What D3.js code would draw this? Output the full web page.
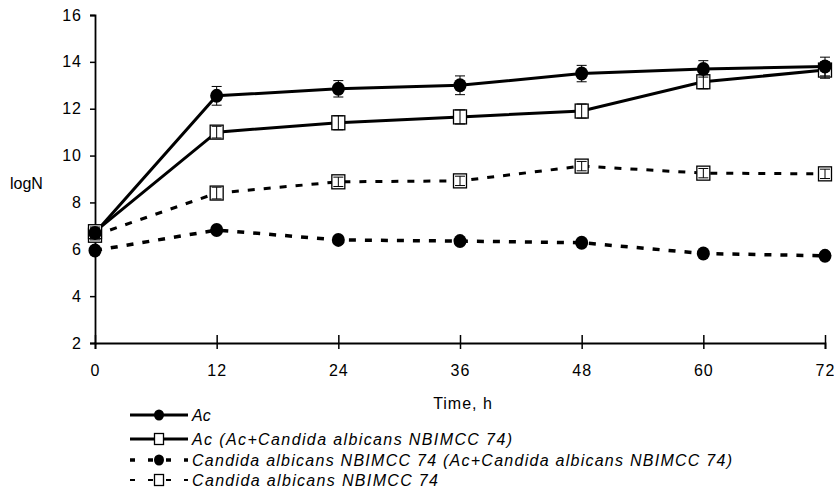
<!DOCTYPE html>
<html>
<head>
	<title>logN vs time</title>
	<script src="https://cdn.jsdelivr.net/npm/d3@7"></script>
	<style>
		body { margin: 0; background: #fff; }
		text { font-family: "Liberation Sans", Arial, sans-serif; fill: #000; }
	</style>
</head>
<body>
	<script type="text/javascript">

		// time points, h
		var hours = [0, 12, 24, 36, 48, 60, 72];
		var yTicks = [2, 4, 6, 8, 10, 12, 14, 16];

		// series values (logN) and error bars
		var acValues       = [6.7, 12.55, 12.85, 13.0, 13.5, 13.7, 13.8];
		var acErr          = [0.2, 0.4, 0.35, 0.4, 0.35, 0.35, 0.4];
		var acMixValues    = [6.75, 11.0, 11.4, 11.65, 11.9, 13.15, 13.65];
		var acMixErr       = [0.2, 0.25, 0.3, 0.3, 0.3, 0.3, 0.35];
		var canMixValues   = [5.95, 6.82, 6.4, 6.35, 6.28, 5.82, 5.72];
		var canMixErr      = [0.1, 0.1, 0.1, 0.1, 0.1, 0.1, 0.1];
		var canValues      = [6.6, 8.4, 8.88, 8.92, 9.55, 9.25, 9.22];
		var canErr         = [0.2, 0.25, 0.2, 0.2, 0.2, 0.2, 0.2];

		var seriesNames = [
			"Ac",
			"Ac (Ac+Candida albicans NBIMCC 74)",
			"Candida albicans NBIMCC 74 (Ac+Candida albicans NBIMCC 74)",
			"Candida albicans NBIMCC 74"
		];

		var series = [
			{ name: seriesNames[0], v: acValues, e: acErr, marker: "circle", dash: null, w: 3, lw: 3, ldash: null, tw: null },
			{ name: seriesNames[1], v: acMixValues, e: acMixErr, marker: "square", dash: null, w: 3, lw: 3, ldash: null, tw: 320 },
			{ name: seriesNames[2], v: canMixValues, e: canMixErr, marker: "circle", dash: "7,9", w: 3.5, lw: 3.5, ldash: "5,13", tw: 540 },
			{ name: seriesNames[3], v: canValues, e: canErr, marker: "square", dash: "7,9", w: 3, lw: 2, ldash: "5,13", tw: 246 }
		];

		var width = 834, height = 495;
		var x = d3.scaleLinear().domain([0, 72]).range([95, 825]);
		var y = d3.scaleLinear().domain([2, 16]).range([343, 15]);

		var svg = d3.select("body").append("svg")
			.attr("width", width)
			.attr("height", height);

		var yAxis = d3.axisLeft(y).tickValues(yTicks).tickSize(5).tickPadding(8);
		var xAxis = d3.axisBottom(x).tickValues(hours).tickSize(6).tickPadding(16);

		var gy = svg.append("g").attr("transform", "translate(95,0)").call(yAxis);
		var gx = svg.append("g").attr("transform", "translate(0,343)").call(xAxis);

		[gx, gy].forEach(function (g) {
			g.select(".domain").attr("stroke", "#000").attr("stroke-width", 1.8);
			g.selectAll(".tick line").attr("stroke", "#000").attr("stroke-width", 1.5);
			g.selectAll(".tick text")
				.attr("font-size", 16)
				.attr("letter-spacing", 1)
				.attr("font-family", "Liberation Sans, Arial, sans-serif")
				.attr("fill", "#000");
		});
		// x ticks cross the axis a little
		gx.selectAll(".tick line").attr("y1", -8);

		svg.append("text").attr("x", 10).attr("y", 189)
			.attr("font-size", 16).text("logN");
		svg.append("text").attr("x", 463).attr("y", 409)
			.attr("text-anchor", "middle").attr("font-size", 16)
			.attr("letter-spacing", 1).text("Time, h");

		var line = d3.line()
			.x(function (d, i) { return x(hours[i]); })
			.y(function (d) { return y(d); });

		// lines (draw from bottom series first)
		series.slice().reverse().forEach(function (s) {
			svg.append("path")
				.datum(s.v)
				.attr("d", line)
				.attr("fill", "none")
				.attr("stroke", "#000")
				.attr("stroke-width", s.w)
				.attr("stroke-dasharray", s.dash);
		});

		function drawMarker(g, type, cx, cy, big) {
			if (type === "circle") {
				g.append("ellipse")
					.attr("cx", cx).attr("cy", cy)
					.attr("rx", big ? 6.5 : 5).attr("ry", big ? 7 : 5.5)
					.attr("fill", "#000");
			} else {
				var w = big ? 13 : 9, h = big ? 14 : 11;
				g.append("rect")
					.attr("x", cx - w / 2).attr("y", cy - h / 2)
					.attr("width", w).attr("height", h)
					.attr("fill", "#fff")
					.attr("stroke", "#000")
					.attr("stroke-width", 1.3);
			}
		}

		// markers and error bars
		series.slice().reverse().forEach(function (s) {
			var g = svg.append("g");
			s.v.forEach(function (d, i) {
				var cx = x(hours[i]);
				drawMarker(g, s.marker, cx, y(d), true);
				var top = y(d + s.e[i]), bot = y(d - s.e[i]);
				g.append("line").attr("x1", cx).attr("x2", cx).attr("y1", top).attr("y2", bot)
					.attr("stroke", "#000").attr("stroke-width", 1);
				[top, bot].forEach(function (yy) {
					g.append("line").attr("x1", cx - 5).attr("x2", cx + 5).attr("y1", yy).attr("y2", yy)
						.attr("stroke", "#000").attr("stroke-width", 1);
				});
			});
		});

		// legend
		var legendY = [415, 439, 460, 480];
		series.forEach(function (s, i) {
			var g = svg.append("g").attr("transform", "translate(0," + legendY[i] + ")");
			g.append("line")
				.attr("x1", 130).attr("x2", 188).attr("y1", 0).attr("y2", 0)
				.attr("stroke", "#000")
				.attr("stroke-width", s.lw)
				.attr("stroke-dasharray", s.ldash);
			drawMarker(g, s.marker, 159, 0, false);
			var t = g.append("text")
				.attr("x", 192).attr("y", 6)
				.attr("font-size", 16)
				.attr("font-style", "italic")
				.text(s.name);
			if (s.tw) t.attr("textLength", s.tw).attr("lengthAdjust", "spacing");
		});

	</script>
</body>
</html>
